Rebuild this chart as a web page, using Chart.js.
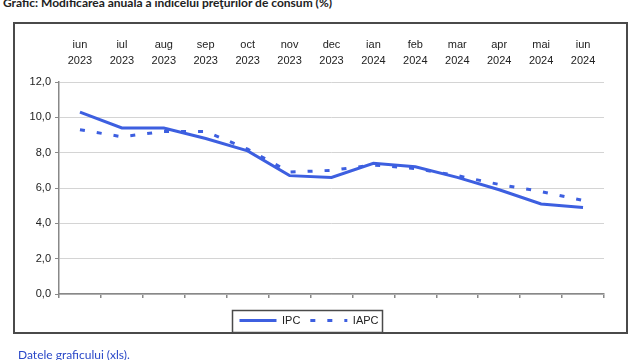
<!DOCTYPE html>
<html><head><meta charset="utf-8">
<script src="https://cdn.jsdelivr.net/npm/chart.js@4"></script>
<style>
body{margin:0;width:640px;height:360px;overflow:hidden;background:#fff;position:relative}
#title{position:absolute;left:3px;top:-5px;font:bold 12px Lato,sans-serif;color:#222;white-space:nowrap}
#frame{position:absolute;left:13px;top:22px;width:615px;height:312px;border:2px solid #4a4a4a;box-sizing:border-box}
#c{position:absolute;left:0;top:0}
#link{position:absolute;left:18px;top:347px;font:12px Lato,sans-serif;color:#2a48c8;white-space:nowrap}
</style></head><body>
<div id="title">Grafic: Modificarea anuală a indicelui preţurilor de consum (%)</div>
<div id="frame"></div>
<canvas id="c" width="640" height="360"></canvas>
<div id="link">Datele graficului (xls).</div>
<script>
const categories = [['iun','2023'],['iul','2023'],['aug','2023'],['sep','2023'],['oct','2023'],['nov','2023'],['dec','2023'],['ian','2024'],['feb','2024'],['mar','2024'],['apr','2024'],['mai','2024'],['iun','2024']];
const ipc  = [10.3, 9.4, 9.4, 8.8, 8.1, 6.7, 6.6, 7.4, 7.2, 6.6, 5.9, 5.1, 4.9];
const iapc = [9.3, 8.9, 9.2, 9.2, 8.2, 6.9, 7.0, 7.3, 7.1, 6.7, 6.2, 5.8, 5.3];
const yTicks = [0, 2, 4, 6, 8, 10, 12];

const blue = '#3d5fe0';
const legendFrame = {
  id: 'legendFrame',
  afterDraw(chart) {
    const hb = chart.legend.legendHitBoxes;
    if (!hb || !hb.length) return;
    const last = hb[hb.length - 1];
    const x0 = hb[0].left - 7, x1 = last.left + last.width + 4;
    const yc = hb[0].top + hb[0].height / 2;
    const ctx = chart.ctx;
    ctx.save();
    ctx.strokeStyle = '#4a4a4a';
    ctx.lineWidth = 1.5;
    ctx.setLineDash([]);
    ctx.strokeRect(Math.round(x0) + 0.5, Math.round(yc - 11) + 0.5, Math.round(x1 - x0), 22);
    ctx.restore();
  }
};

new Chart(document.getElementById('c'), {
  type: 'line',
  data: {
    labels: categories,
    datasets: [
      {label: 'IPC', data: ipc, borderColor: blue, backgroundColor: blue, borderWidth: 3, pointRadius: 0, tension: 0, fill: false, xAxisID: 'x', yAxisID: 'y'},
      {label: 'IAPC', data: iapc, borderColor: blue, backgroundColor: blue, borderWidth: 3, borderDash: [5, 12], pointRadius: 0, tension: 0, fill: false, xAxisID: 'x', yAxisID: 'y'}
    ]
  },
  options: {
    responsive: false,
    animation: false,
    devicePixelRatio: 1,
    layout: {padding: {left: 14, right: 36, top: 22, bottom: 24}},
    plugins: {
      title: {display: false},
      tooltip: {enabled: false},
      legend: {
        position: 'bottom',
        labels: {
          usePointStyle: true, pointStyle: 'line', pointStyleWidth: 37,
          padding: 10, color: '#222',
          font: {family: 'Liberation Sans, Arial, sans-serif', size: 11},
          generateLabels(chart) {
            const items = Chart.defaults.plugins.legend.labels.generateLabels(chart);
            items.forEach(it => {
              const ds = chart.data.datasets[it.datasetIndex];
              it.lineDash = ds.borderDash || [];
              it.strokeStyle = ds.borderColor;
              it.lineWidth = ds.borderWidth;
            });
            return items;
          }
        }
      }
    },
    scales: {
      x: {
        type: 'category', position: 'bottom', offset: true,
        grid: {offset: true, drawOnChartArea: false, tickLength: 4, color: '#888', lineWidth: 1.5},
        border: {color: '#888', width: 1.5},
        ticks: {display: false},
        afterFit(a) { a.height = 11; }
      },
      x2: {
        type: 'category', position: 'top', offset: true, labels: categories,
        grid: {display: false, drawTicks: false},
        border: {display: false},
        ticks: {color: '#222', font: {family: 'Liberation Sans, Arial, sans-serif', size: 11, lineHeight: 1.45}, padding: 13, maxRotation: 0, autoSkip: false},
        afterFit(a) { a.height = 60; }
      },
      y: {
        min: 0, max: 12,
        afterBuildTicks(a) { a.ticks = yTicks.map(v => ({value: v})); },
        grid: {color: '#d4d4d4', tickColor: '#888', tickLength: 4, lineWidth: 1},
        border: {color: '#888', width: 1.5},
        ticks: {color: '#222', font: {family: 'Liberation Sans, Arial, sans-serif', size: 11}, padding: 4,
          callback: v => v.toFixed(1).replace('.', ',')},
        afterFit(a) { a.width = 45; }
      }
    }
  },
  plugins: [legendFrame]
});
</script>
</body></html>
